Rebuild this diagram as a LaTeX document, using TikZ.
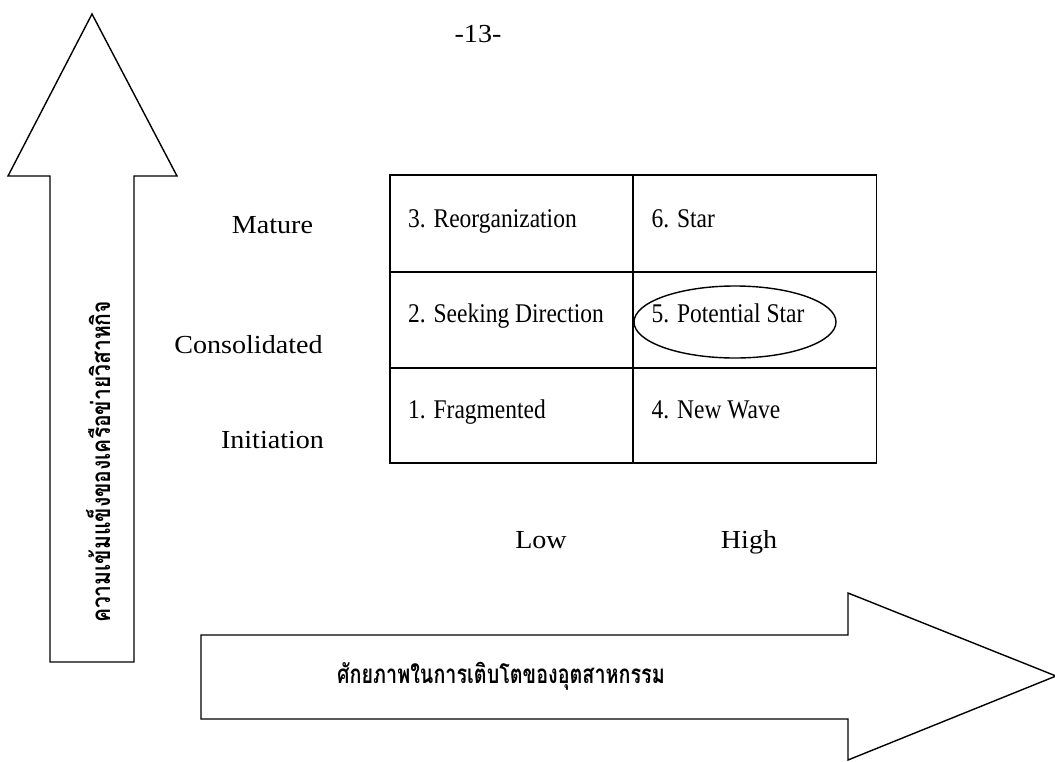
\documentclass[tikz,border=0pt]{standalone}
\usepackage{fontspec}
\setmainfont{Liberation Serif}
\newfontfamily\cellfont[FakeStretch=0.87]{Liberation Serif}
\newfontfamily\labfont[FakeStretch=1.08]{Liberation Serif}
\newfontfamily\thaihfont[Script=Thai,FakeStretch=0.76]{Loma}
\newfontfamily\thaivfont[Script=Thai,FakeStretch=0.81]{Loma}
\tikzset{
  outline/.style={draw=black, line width=1.4pt, line join=miter},
  cellbox/.style={draw=black, line width=1.4pt, minimum width=243pt, minimum height=96pt, inner sep=0pt, outer sep=0pt},
  celltext/.style={anchor=base west, inner sep=0pt, font=\cellfont\fontsize{27}{30}\selectfont},
  axislabel/.style={anchor=base, inner sep=0pt, font=\labfont\fontsize{26}{30}\selectfont},
  thaih/.style={anchor=base, inner sep=0pt, font=\thaihfont\bfseries\fontsize{26}{30}\selectfont},
  thaiv/.style={anchor=base, inner sep=0pt, font=\thaivfont\bfseries\fontsize{26}{30}\selectfont}
}
\begin{document}
\begin{tikzpicture}[x=1pt,y=-1pt]
\useasboundingbox (0,0) rectangle (1055,761);
% page number
\node[axislabel] (pg) at (478,42) {-13-};
% up arrow
\draw[outline] (50,662) -- (50,176) -- (8,176) -- (92,14) -- (177,176) -- (134,176) -- (134,662) -- cycle;
\node[thaiv, rotate=90] (ylab) at (110,462) {ความเข้มแข็งของเครือข่ายวิสาหกิจ};
% right arrow
\draw[outline] (201,635) -- (848,635) -- (848,593) -- (1056,676) -- (848,760) -- (848,719) -- (201,719) -- cycle;
\node[thaih] (xlab) at (501,683) {ศักยภาพในการเติบโตของอุตสาหกรรม};
% table cells
\node[cellbox, minimum height=97pt] (c3) at (511.5,223.5) {};
\node[cellbox, minimum height=97pt] (c6) at (755,223.5) {};
\node[cellbox] (c2) at (511.5,320) {};
\node[cellbox] (c5) at (755,320) {};
\node[cellbox, minimum height=95pt] (c1) at (511.5,415.5) {};
\node[cellbox, minimum height=95pt] (c4) at (755,415.5) {};
% cell texts
\node[celltext] (t3) at ([xshift=18pt,yshift=-52pt]c3.north west) {3. Reorganization};
\node[celltext] (t6) at ([xshift=18pt,yshift=-52pt]c6.north west) {6. Star};
\node[celltext] (t2) at ([xshift=18pt,yshift=-50pt]c2.north west) {2. Seeking Direction};
\node[celltext] (t5) at ([xshift=18pt,yshift=-50pt]c5.north west) {5. Potential Star};
\node[celltext] (t1) at ([xshift=18pt,yshift=-50pt]c1.north west) {1. Fragmented};
\node[celltext] (t4) at ([xshift=18pt,yshift=-50pt]c4.north west) {4. New Wave};
% ellipse
\draw[line width=1.4pt] (735,322) ellipse [x radius=101pt, y radius=36pt];
% row labels
\node[axislabel] (mature) at (272.5,233) {Mature};
\node[axislabel] (consol) at (248.5,353) {Consolidated};
\node[axislabel] (init) at (272.5,448) {Initiation};
% column labels
\node[axislabel] (low) at (541,548) {Low};
\node[axislabel] (high) at (749,548) {High};
\end{tikzpicture}
\end{document}
